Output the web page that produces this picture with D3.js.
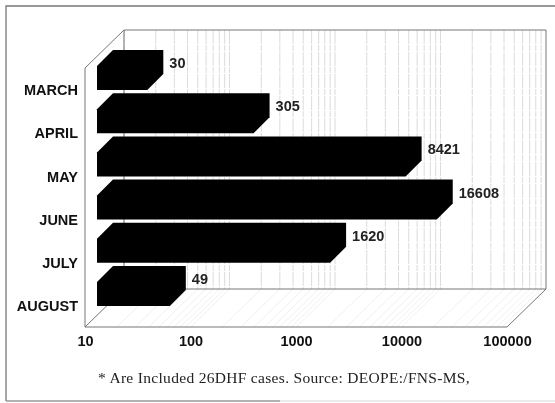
<!DOCTYPE html>
<html>
<head>
<meta charset="utf-8">
<script src="https://cdn.jsdelivr.net/npm/d3@7"></script>
<style>
    html, body { margin: 0; padding: 0; background: #fff; }
    svg { display: block; filter: blur(0.55px); }
</style>
</head>
<body>
<svg id="chart" width="555" height="403"></svg>
<script>
let months = ["MARCH", "APRIL", "MAY", "JUNE", "JULY", "AUGUST"];
let cases = [30, 305, 8421, 16608, 1620, 49];
let xTicks = [10, 100, 1000, 10000, 100000];
let footnote = "* Are Included 26DHF cases. Source: DEOPE:/FNS-MS,";

let svg = d3.select("#chart");
let sans = "'Liberation Sans', Arial, sans-serif";

// front edge of the floor, the back wall is the same thing pushed by depth
let floorY = 327;
let wallTop = 30;
let depth = 39;
let xScale = d3.scaleLog().domain([10, 100000]).range([85, 507]);
let yScale = d3.scalePoint().domain(months).range([90, 306]);

// bars stand a bit into the box and have their own thickness
let barInset = 12;
let barDepth = 16;
let barFace = 24;

// outer frame, the scan has no right side and the bottom fades out
let frame = svg.append("g").attr("fill", "none").attr("stroke-width", 1.3);
frame.append("path").attr("d", "M555,6H6V401").attr("stroke", "#777");
frame.append("path").attr("d", "M6,401H280").attr("stroke", "#999");
frame.append("path").attr("d", "M280,401H555").attr("stroke", "#e4e4e4");

// log grid lines, back wall and floor
let gridValues = [];
for (let decade = 10; decade < 100000; decade *= 10) {
    for (let k = 1; k < 10; k++) {
        gridValues.push(decade * k);
    }
}
let grid = svg.append("g").attr("stroke-width", 0.8);
grid.selectAll("line.wall")
    .data(gridValues)
    .enter().append("line")
    .attr("class", "wall")
    .attr("x1", d => xScale(d) + depth)
    .attr("x2", d => xScale(d) + depth)
    .attr("y1", wallTop)
    .attr("y2", floorY - depth + 1)
    .attr("stroke", "#d2d2d2")
    .attr("stroke-dasharray", "14 1 6 1");
grid.selectAll("line.floor")
    .data(gridValues)
    .enter().append("line")
    .attr("class", "floor")
    .attr("x1", d => xScale(d))
    .attr("x2", d => xScale(d) + depth)
    .attr("y1", floorY)
    .attr("y2", floorY - depth + 1)
    .attr("stroke", "#ececec");

// box outline
let left = xScale.range()[0];
let right = xScale.range()[1];
let boxPath = d3.path();
boxPath.moveTo(left, floorY);
boxPath.lineTo(left, wallTop + depth - 1);
boxPath.lineTo(left + depth, wallTop);
boxPath.lineTo(right + depth, wallTop);
boxPath.lineTo(right + depth, floorY - depth + 1);
boxPath.lineTo(right, floorY);
boxPath.closePath();
boxPath.moveTo(left + depth, wallTop);
boxPath.lineTo(left + depth, floorY - depth + 1);
boxPath.lineTo(right + depth, floorY - depth + 1);
boxPath.moveTo(left, floorY);
boxPath.lineTo(left + depth, floorY - depth + 1);
svg.append("path")
    .attr("d", boxPath.toString())
    .attr("fill", "none")
    .attr("stroke", "#777")
    .attr("stroke-width", 1);

// bars
let bars = svg.append("g").selectAll("path")
    .data(months)
    .enter().append("path")
    .attr("fill", "#000")
    .attr("d", function(d, i) {
        let x0 = left + barInset;
        let x1 = xScale(cases[i]) + barInset;
        let y1 = yScale(d);
        let p = d3.path();
        p.moveTo(x0, y1);
        p.lineTo(x1, y1);
        p.lineTo(x1 + barDepth, y1 - barDepth);
        p.lineTo(x1 + barDepth, y1 - barDepth - barFace);
        p.lineTo(x0 + barDepth, y1 - barDepth - barFace);
        p.lineTo(x0, y1 - barFace);
        p.closePath();
        return p.toString();
    });

// value labels
svg.append("g").selectAll("text")
    .data(months)
    .enter().append("text")
    .attr("x", (d, i) => xScale(cases[i]) + barInset + barDepth + 6)
    .attr("y", d => yScale(d) - 27)
    .attr("dy", "0.35em")
    .attr("font-family", sans)
    .attr("font-weight", "bold")
    .attr("font-size", 14.5)
    .attr("fill", "#222")
    .text((d, i) => cases[i]);

// axes
let yAxis = d3.axisLeft(yScale).tickSize(0).tickPadding(0);
let yAxisG = svg.append("g")
    .attr("transform", "translate(78,0)")
    .call(yAxis);
let xAxis = d3.axisBottom(xScale)
    .tickValues(xTicks)
    .tickFormat(d => d)
    .tickSize(0)
    .tickPadding(0);
let xAxisG = svg.append("g")
    .attr("transform", "translate(0,336)")
    .call(xAxis);
yAxisG.select(".domain").remove();
xAxisG.select(".domain").remove();
svg.selectAll(".tick text")
    .attr("font-family", sans)
    .attr("font-weight", "bold")
    .attr("font-size", 14.5)
    .attr("fill", "#111");

// source note
svg.append("text")
    .attr("x", 98)
    .attr("y", 383)
    .attr("font-family", "'Liberation Serif', 'Times New Roman', serif")
    .attr("font-size", 15.5)
    .attr("letter-spacing", 0.31)
    .attr("fill", "#222")
    .text(footnote);
</script>
</body>
</html>
